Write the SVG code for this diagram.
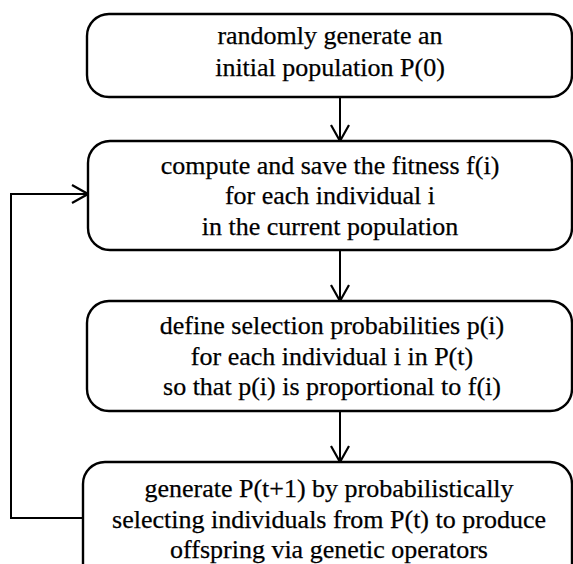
<svg xmlns="http://www.w3.org/2000/svg" width="573" height="564" viewBox="0 0 573 564">
  <defs>
    <marker id="vee" viewBox="0 0 20 20" refX="18" refY="10" markerWidth="20" markerHeight="20" markerUnits="userSpaceOnUse" orient="auto">
      <path d="M2,1 L18,10 L2,19" fill="none" stroke="#000" stroke-width="2.2"/>
    </marker>
  </defs>
  <style>
    .box { fill: #fff; stroke: #000; stroke-width: 2.4; }
    .lbl { font-family: "Liberation Serif", "Times New Roman", serif; font-size: 26px; fill: #000; stroke: #000; stroke-width: 0.25; text-anchor: middle; }
    .link { fill: none; stroke: #000; stroke-width: 2; marker-end: url(#vee); }
  </style>
  <rect width="573" height="564" fill="#fff"/>

  <g id="connectors">
    <path class="link" d="M340,97 V141"/>
    <path class="link" d="M340,250 V301"/>
    <path class="link" d="M340,411 V462"/>
    <path class="link" d="M83,518 H11 V194 H88"/>
  </g>

  <g id="init">
    <rect class="box" x="87" y="14" width="485" height="83" rx="22" ry="22"/>
    <text class="lbl" x="330" y="44">randomly generate an</text>
    <text class="lbl" x="330" y="76">initial population P(0)</text>
  </g>

  <g id="fitness">
    <rect class="box" x="88" y="141" width="484" height="109" rx="22" ry="22"/>
    <text class="lbl" x="330" y="174">compute and save the fitness f(i)</text>
    <text class="lbl" x="330" y="204">for each individual i</text>
    <text class="lbl" x="330" y="235">in the current population</text>
  </g>

  <g id="selection">
    <rect class="box" x="87" y="301" width="485" height="110" rx="22" ry="22"/>
    <text class="lbl" x="332" y="334">define selection probabilities p(i)</text>
    <text class="lbl" x="332" y="365">for each individual i in P(t)</text>
    <text class="lbl" x="332" y="395">so that p(i) is proportional to f(i)</text>
  </g>

  <g id="generate">
    <rect class="box" x="83" y="462" width="489" height="130" rx="22" ry="22"/>
    <text class="lbl" x="329" y="497">generate P(t+1) by probabilistically</text>
    <text class="lbl" x="329" y="528">selecting individuals from P(t) to produce</text>
    <text class="lbl" x="329" y="558">offspring via genetic operators</text>
  </g>
</svg>
